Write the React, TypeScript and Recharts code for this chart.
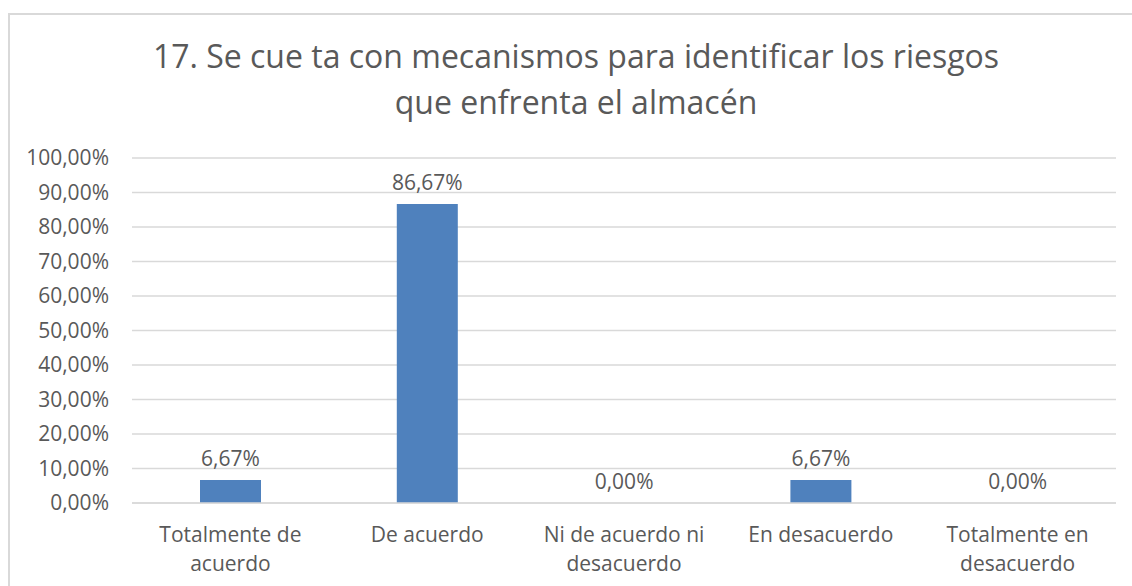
import { BarChart, Bar, XAxis, YAxis, CartesianGrid, LabelList } from "recharts"

const titleLines = [
  "17. Se cue ta con mecanismos para identificar los riesgos",
  "que enfrenta el almacén",
]

// "\n" marks where the axis label wraps
const categories = [
  "Totalmente de\nacuerdo",
  "De acuerdo",
  "Ni de acuerdo ni\ndesacuerdo",
  "En desacuerdo",
  "Totalmente en\ndesacuerdo",
]
const values = [0.0667, 0.8667, 0, 0.0667, 0]
const yTicks = [0, 0.1, 0.2, 0.3, 0.4, 0.5, 0.6, 0.7, 0.8, 0.9, 1]

const data = categories.map((name, i) => ({ name, value: values[i] }))

const FONT = "'Open Sans', sans-serif"
const TEXT = "#595959"
const GRID = "#D9D9D9"

const pct = (v: any) => (Number(v) * 100).toFixed(2).replace(".", ",") + "%"

function CategoryTick({ x, y, payload }: any) {
  const lines = String(payload.value).split("\n")
  return (
    <g transform={`translate(${x},${y})`}>
      {lines.map((line, i) => (
        <text key={i} x={0} y={31 + i * 29} textAnchor="middle" fill={TEXT} fontSize={21} fontFamily={FONT}>
          {line}
        </text>
      ))}
    </g>
  )
}

export default function App() {
  return (
    <div style={{ position: "absolute", left: 0, top: 0, width: 1132, height: 586, overflow: "hidden", background: "#fff" }}>
      <div style={{ position: "absolute", left: 8, top: 13, width: 1200, height: 700, border: `2px solid ${GRID}`, boxSizing: "border-box" }} />
      <div style={{ position: "absolute", left: 0, top: 33, width: 1152, textAlign: "center", fontFamily: FONT, fontSize: 32, lineHeight: "46px", color: TEXT }}>
        {titleLines.map((t, i) => <div key={i}>{t}</div>)}
      </div>
      <div style={{ position: "absolute", left: 0, top: 0 }}>
        <BarChart width={1132} height={586} data={data} margin={{ top: 158, right: 16, bottom: 53, left: 0 }}>
          <CartesianGrid vertical={false} stroke={GRID} strokeWidth={1.5} />
          <XAxis dataKey="name" height={30} axisLine={{ stroke: GRID, strokeWidth: 1.5 }} tickLine={false} tick={<CategoryTick />} interval={0} />
          <YAxis
            width={132}
            domain={[0, 1]}
            ticks={yTicks}
            tickFormatter={pct}
            axisLine={false}
            tickLine={false}
            tickMargin={17}
            tick={{ fill: TEXT, fontSize: 21, fontFamily: FONT }}
          />
          <Bar dataKey="value" fill="#4F81BD" barSize={61} minPointSize={0.01} isAnimationActive={false}>
            <LabelList dataKey="value" position="top" offset={14} formatter={pct} fill={TEXT} fontSize={21} fontFamily={FONT} />
          </Bar>
        </BarChart>
      </div>
    </div>
  )
}
